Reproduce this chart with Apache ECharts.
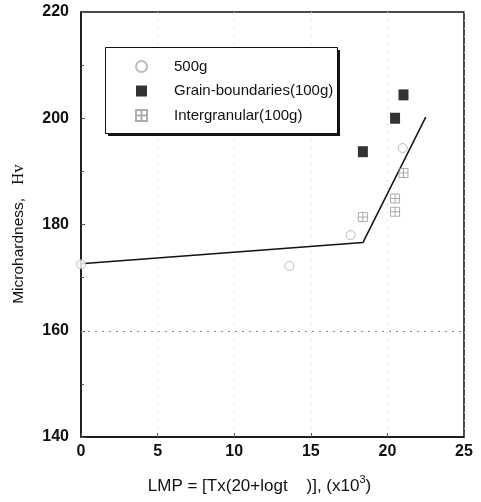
<!DOCTYPE html>
<html>
<head>
<meta charset="utf-8">
<script src="https://cdn.jsdelivr.net/npm/echarts@6/dist/echarts.min.js"></script>
<style>
    html, body {margin: 0; padding: 0; background: #fff;}
    #main {width: 481px; height: 502px;}
</style>
</head>
<body>
<div id="main"></div>
<script>
// 数据
var load500 = [[0, 172.5], [13.6, 172.2], [17.6, 178.0], [21.0, 194.4]];
var grainBoundaries = [[18.4, 193.7], [20.5, 200.0], [21.05, 204.4]];
var intergranular = [[18.4, 181.4], [20.5, 182.4], [20.5, 184.9], [21.05, 189.7]];
var fitLine = [[0, 172.6], [18.4, 176.6], [22.5, 200.2]];
var xTicks = [0, 5, 10, 15, 20, 25];
var yTicks = [140, 160, 180, 200, 220];

~function () {
    var myChart = echarts.init(document.getElementById('main'));
    var font = 'Liberation Sans, Arial, sans-serif';
    var boxPlus = 'path://M0,0H10V10H0Z M0,5H10 M5,0V10';
    var option = {
        animation: false,
        backgroundColor: '#fff',
        grid: {
            left: 81, right: 17, top: 12, bottom: 65,
            show: true,
            borderColor: '#111',
            borderWidth: 1.5
        },
        // legend frame with its drop shadow
        graphic: [
            {type: 'rect', left: 108, top: 50, shape: {width: 232, height: 86}, style: {fill: '#111'}, z: 10},
            {type: 'rect', left: 105, top: 47, shape: {width: 232, height: 86}, style: {fill: '#fff', stroke: '#111', lineWidth: 1}, z: 11}
        ],
        legend: {
            orient: 'vertical',
            left: 105,
            top: 47,
            z: 20,
            data: ['500g', 'Grain-boundaries(100g)', 'Intergranular(100g)'],
            padding: [12, 3, 12, 30],
            itemWidth: 11,
            itemHeight: 11,
            itemGap: 9.5,
            textStyle: {fontFamily: font, fontSize: 15, color: '#111', padding: [0, 0, 0, 22]}
        },
        xAxis: {
            type: 'value',
            min: xTicks[0],
            max: xTicks[xTicks.length - 1],
            interval: 5,
            name: 'LMP = [Tx(20+logt    )], (x10{sup|3})',
            nameLocation: 'middle',
            nameGap: 37,
            nameTextStyle: {
                fontFamily: font, fontSize: 17, color: '#111', padding: [0, 26, 0, 0],
                rich: {sup: {fontFamily: font, fontSize: 11, color: '#111', verticalAlign: 'bottom', padding: [0, 0, 14, 0]}}
            },
            axisLine: {lineStyle: {color: '#111', width: 1.5}},
            axisTick: {inside: true, length: 4, lineStyle: {color: '#555'}},
            axisLabel: {fontFamily: font, fontSize: 16, fontWeight: 'bold', color: '#111', margin: 7},
            splitLine: {show: true, lineStyle: {type: [1, 7], color: '#ccc', width: 1}}
        },
        yAxis: {
            type: 'value',
            min: yTicks[0],
            max: yTicks[yTicks.length - 1],
            interval: 20,
            name: 'Microhardness,   {hv|Hv}',
            nameLocation: 'middle',
            nameGap: 54,
            nameTextStyle: {
                fontFamily: font, fontSize: 15.5, color: '#111', padding: [0, 19, 0, 0],
                rich: {hv: {fontFamily: 'Liberation Serif, serif', fontSize: 17, color: '#111'}}
            },
            axisLine: {lineStyle: {color: '#111', width: 1.5}},
            axisTick: {inside: true, length: 4, lineStyle: {color: '#555'}},
            minorTick: {show: true, splitNumber: 2, length: 3, lineStyle: {color: '#555'}},
            axisLabel: {fontFamily: font, fontSize: 16, fontWeight: 'bold', color: '#111', margin: 12},
            splitLine: {show: false}
        },
        series: [
            {
                name: 'fit',
                type: 'line',
                data: fitLine,
                showSymbol: false,
                symbol: 'none',
                lineStyle: {color: '#111', width: 1.5},
                z: 3,
                markLine: {
                    silent: true,
                    symbol: 'none',
                    label: {show: false},
                    lineStyle: {type: [2, 5], color: '#888', width: 1},
                    data: [{yAxis: 160}]
                }
            },
            {
                name: '500g',
                type: 'scatter',
                data: load500,
                symbol: 'circle',
                symbolSize: 9,
                clip: false,
                itemStyle: {color: '#fff', borderColor: '#aaa', borderWidth: 1},
                z: 4
            },
            {
                name: 'Grain-boundaries(100g)',
                type: 'scatter',
                data: grainBoundaries,
                symbol: 'rect',
                symbolSize: [10, 11],
                itemStyle: {color: '#000'},
                z: 4
            },
            {
                name: 'Intergranular(100g)',
                type: 'scatter',
                data: intergranular,
                symbol: boxPlus,
                symbolSize: [9, 9],
                itemStyle: {color: 'rgba(255,255,255,0)', borderColor: '#999', borderWidth: 1},
                z: 4
            }
        ]
    };
    myChart.setOption(option);
}();
</script>
</body>
</html>
